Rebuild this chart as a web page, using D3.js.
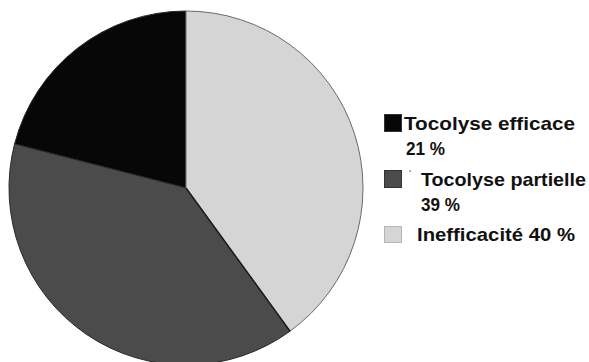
<!DOCTYPE html>
<html>
<head>
<meta charset="utf-8">
<script src="https://cdn.jsdelivr.net/npm/d3@7"></script>
<style>
  html, body { margin: 0; padding: 0; background: #fff; }
  svg { display: block; }
  .lg { font-family: "Liberation Sans", Arial, sans-serif; font-weight: bold; font-size: 19px; fill: #111; }
</style>
</head>
<body>
<svg id="chart" width="589" height="362"></svg>
<script>
// Résultat de la tocolyse
const categories = ["Tocolyse efficace", "Tocolyse partielle", "Inefficacité"];
const values = [21, 39, 40];
const colors = ["#070707", "#4b4b4b", "#d5d5d5"];

const svg = d3.select("#chart");
const cx = 186, cy = 188, r = 177;

// slices run counter-clockwise from 12 o'clock, in legend order
const pie = d3.pie().sort(null).startAngle(0).endAngle(-2 * Math.PI);
const arc = d3.arc().innerRadius(0).outerRadius(r);
const arcs = pie(values);

const g = svg.append("g").attr("transform", `translate(${cx},${cy})`);
g.selectAll("path.slice")
  .data(arcs)
  .join("path")
  .attr("class", "slice")
  .attr("d", arc)
  .attr("fill", (d, i) => colors[i])
  .attr("stroke", (d, i) => i === 2 ? "#6a6a6a" : "#2a2a2a")
  .attr("stroke-width", 1);

// separating line between the light and the dark slice
const a = arcs[2].startAngle;
g.append("line")
  .attr("x1", 0).attr("y1", 0)
  .attr("x2", r * Math.sin(a)).attr("y2", -r * Math.cos(a))
  .attr("stroke", "#1a1a1a").attr("stroke-width", 1.5);

// legend: swatch then one or two lines of text (x, baseline, text, width)
const fmt = v => `${v} %`;
const legend = svg.append("g");
const rows = [
  { y: 114, h: 17, lines: [[404, 130, categories[0], 171], [406, 155, fmt(values[0]), 39]] },
  { y: 170, h: 17, lines: [[421, 186, categories[1], 165], [421, 211, fmt(values[1]), 39]] },
  { y: 226, h: 16, lines: [[417, 241, `${categories[2]} ${fmt(values[2])}`, 158]] }
];
rows.forEach((row, i) => {
  legend.append("rect")
    .attr("x", 384.5).attr("y", row.y + 0.5)
    .attr("width", 17).attr("height", row.h)
    .attr("fill", colors[i])
    .attr("stroke", i === 2 ? "#b5b5b5" : "#333")
    .attr("stroke-width", 1);
  row.lines.forEach(([x, y, t, w]) => {
    legend.append("text").attr("class", "lg")
      .attr("x", x).attr("y", y)
      .attr("textLength", w).attr("lengthAdjust", "spacingAndGlyphs")
      .text(t);
  });
});
// small mark before the second label
legend.append("circle").attr("cx", 410).attr("cy", 171).attr("r", 0.9).attr("fill", "#888");
</script>
</body>
</html>
